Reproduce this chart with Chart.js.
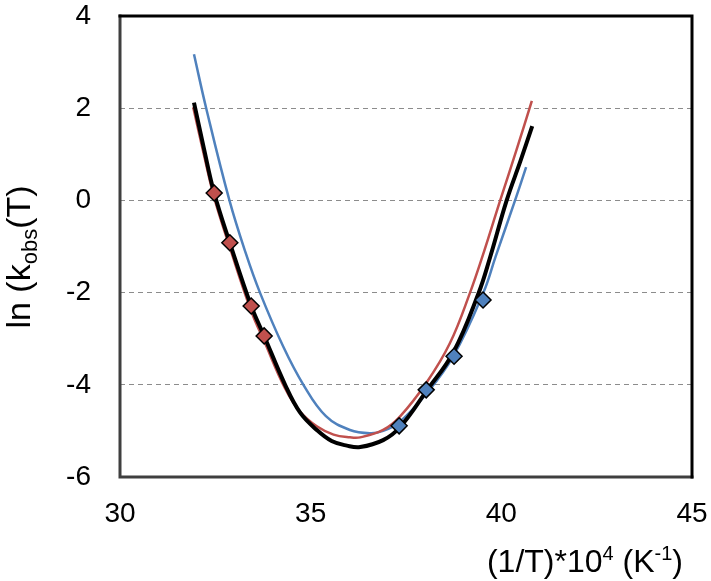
<!DOCTYPE html>
<html>
<head>
<meta charset="utf-8">
<script src="https://cdn.jsdelivr.net/npm/chart.js@4.4.1/dist/chart.umd.min.js"></script>
<style>
  html, body { margin: 0; padding: 0; background: #fff; }
  #wrap { width: 711px; height: 581px; }
</style>
</head>
<body>
<div id="wrap"><canvas id="c"></canvas></div>
<script>
// --- data ---
const xTicks = [30, 35, 40, 45];
const yTicks = [-6, -4, -2, 0, 2, 4];

// fitted curves
const blackX = [31.94, 32.2, 32.47, 32.88, 33.44, 33.78, 34.33, 34.72, 35.16, 35.55, 35.95, 36.3, 36.9, 37.34, 38.04, 38.74, 39.4, 39.7, 40.14, 40.5, 40.81];
const blackY = [2.12, 1.13, 0.16, -0.92, -2.29, -2.94, -4.0, -4.6, -4.98, -5.22, -5.32, -5.35, -5.2, -4.92, -4.13, -3.3, -2.02, -1.25, 0.0, 0.85, 1.61];

const redX = [31.92, 32.2, 32.47, 32.88, 33.44, 33.78, 34.33, 34.72, 35.16, 35.6, 36.03, 36.3, 36.9, 37.34, 38.04, 38.65, 39.18, 39.55, 39.97, 40.4, 40.8];
const redY = [2.02, 0.99, 0.06, -1.02, -2.4, -3.05, -4.08, -4.58, -4.9, -5.08, -5.14, -5.14, -4.98, -4.69, -3.95, -3.1, -2.0, -1.1, 0.0, 1.1, 2.16];

const blueX = [31.94, 32.26, 32.87, 33.3, 33.67, 34.28, 34.81, 35.4, 36.03, 36.56, 36.9, 37.34, 38.04, 38.74, 39.53, 39.85, 40.36, 40.65];
const blueY = [3.17, 2.0, 0.0, -1.15, -2.0, -3.17, -4.0, -4.68, -4.98, -5.05, -5.0, -4.8, -4.19, -3.38, -2.0, -1.22, 0.0, 0.72];

// measured points
const redPtX = [32.47, 32.88, 33.44, 33.78];
const redPtY = [0.16, -0.92, -2.29, -2.94];
const bluePtX = [37.32, 38.03, 38.76, 39.52];
const bluePtY = [-4.89, -4.11, -3.38, -2.16];

const RED = '#C0504D';
const BLUE = '#4F81BD';
const FONT = '"Liberation Sans", Arial, sans-serif';

const toPts = (xs, ys) => xs.map((x, i) => ({ x, y: ys[i] }));

const curve = (xs, ys, color, width) => ({
    data: toPts(xs, ys),
    showLine: true,
    borderColor: color,
    borderWidth: width,
    pointRadius: 0,
    tension: 0.4,
    fill: false
});

const markers = (xs, ys, color) => ({
    data: toPts(xs, ys),
    showLine: false,
    pointStyle: 'rectRot',
    pointRadius: 8,
    backgroundColor: color,
    borderColor: '#000',
    borderWidth: 1.5
});

// writes a list of [text, font, dy] pieces one after another
const drawParts = (ctx, parts, x0, y0) => {
    let x = x0;
    parts.forEach(([t, f, dy]) => {
        ctx.font = f;
        ctx.fillText(t, x, y0 + dy);
        x += ctx.measureText(t).width;
    });
};
const partsWidth = (ctx, parts) => parts.reduce((w, [t, f]) => { ctx.font = f; return w + ctx.measureText(t).width; }, 0);

// frame + axis titles (with sub/superscripts)
const decorations = {
    id: 'decorations',
    afterDraw(chart) {
        const { ctx, chartArea: a } = chart;
        ctx.save();
        ctx.lineCap = 'square';
        ctx.lineWidth = 3;
        ctx.strokeStyle = '#3f3f3f';
        ctx.beginPath();
        ctx.moveTo(a.left, a.top);
        ctx.lineTo(a.left, a.bottom);
        ctx.lineTo(a.right, a.bottom);
        ctx.stroke();
        ctx.strokeStyle = '#000';
        ctx.beginPath();
        ctx.moveTo(a.left, a.top);
        ctx.lineTo(a.right, a.top);
        ctx.lineTo(a.right, a.bottom);
        ctx.stroke();

        ctx.fillStyle = '#000';
        ctx.textBaseline = 'alphabetic';

        // x title: (1/T)*10^4 (K^-1)
        const xBig = '32px ' + FONT, xSmall = '20px ' + FONT;
        const xParts = [
            ['(1/T)*10', xBig, 0],
            ['4', xSmall, -12],
            [' (K', xBig, 0],
            ['-1', xSmall, -12],
            [')', xBig, 0]
        ];
        drawParts(ctx, xParts, 683 - partsWidth(ctx, xParts), 572);

        // y title: ln (k_obs(T)
        const yBig = '34px ' + FONT, ySmall = '22px ' + FONT;
        const yParts = [
            ['ln (k', yBig, 0],
            ['obs', ySmall, 7],
            ['(T)', yBig, 0]
        ];
        const total = partsWidth(ctx, yParts);
        ctx.translate(30, 257);
        ctx.rotate(-Math.PI / 2);
        drawParts(ctx, yParts, -total / 2, 0);
        ctx.restore();
    }
};

new Chart(document.getElementById('c'), {
    type: 'scatter',
    data: {
        datasets: [
            markers(redPtX, redPtY, RED),
            markers(bluePtX, bluePtY, BLUE),
            curve(blackX, blackY, '#000', 4),
            curve(redX, redY, RED, 2.5),
            curve(blueX, blueY, BLUE, 2.5)
        ]
    },
    options: {
        responsive: true,
        maintainAspectRatio: false,
        animation: false,
        layout: { autoPadding: false, padding: { top: 16, right: 19, left: 0, bottom: 0 } },
        plugins: { legend: { display: false }, tooltip: { enabled: false } },
        scales: {
            x: {
                type: 'linear',
                min: xTicks[0],
                max: xTicks[xTicks.length - 1],
                afterBuildTicks: (s) => { s.ticks = xTicks.map(v => ({ value: v })); },
                afterFit: (s) => { s.height = 104; s.paddingLeft = 0; s.paddingRight = 0; },
                grid: { display: false },
                border: { display: false },
                ticks: { color: '#000', font: { family: FONT, size: 28 }, padding: 12, maxRotation: 0 }
            },
            y: {
                type: 'linear',
                min: yTicks[0],
                max: yTicks[yTicks.length - 1],
                afterBuildTicks: (s) => { s.ticks = yTicks.map(v => ({ value: v })); },
                afterFit: (s) => { s.width = 120; s.paddingTop = 0; s.paddingBottom = 0; },
                grid: {
                    drawTicks: false,
                    lineWidth: 1,
                    color: (c) => (c.tick && (c.tick.value === 4 || c.tick.value === -6)) ? 'rgba(0,0,0,0)' : '#8c8c8c'
                },
                border: { display: false, dash: [5, 4] },
                ticks: { color: '#000', font: { family: FONT, size: 28 }, padding: 29 }
            }
        }
    },
    plugins: [decorations]
});
</script>
</body>
</html>
